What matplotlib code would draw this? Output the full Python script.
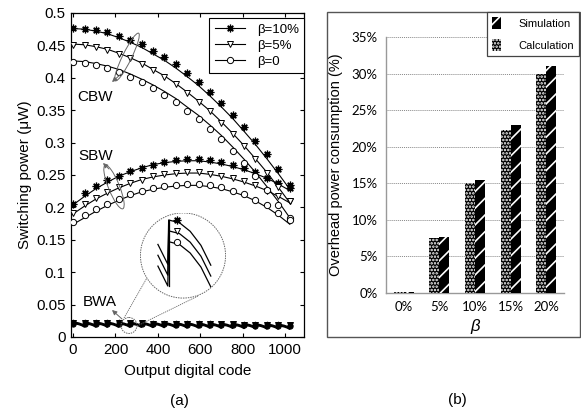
import matplotlib
matplotlib.use('Agg')
import matplotlib.pyplot as plt
from matplotlib.patches import Ellipse, Circle, Rectangle
from matplotlib.lines import Line2D

plt.rcParams['font.family'] = ['Liberation Sans', 'DejaVu Sans']

W, H = 581, 413
fig = plt.figure(figsize=(W / 100, H / 100), dpi=100)


def fx(x):
    return x / W


def fy(y):
    return 1 - y / H


# ---------------- data (a) ----------------
codes = [0, 54, 108, 162, 215, 269, 323, 377, 431, 485, 538, 592, 646, 700, 754, 808, 861, 915, 969, 1023]

cbw_line_10 = [0.476, 0.475, 0.472, 0.468, 0.462, 0.455, 0.447, 0.437, 0.427, 0.415, 0.402, 0.388, 0.372, 0.355, 0.337, 0.317, 0.297, 0.275, 0.252, 0.228]
cbw_mark_10 = [0.477, 0.476, 0.474, 0.470, 0.465, 0.459, 0.452, 0.442, 0.432, 0.421, 0.408, 0.394, 0.378, 0.361, 0.343, 0.324, 0.303, 0.282, 0.259, 0.235]
cbw_line_5 = [0.452, 0.451, 0.448, 0.444, 0.438, 0.431, 0.423, 0.413, 0.403, 0.391, 0.378, 0.364, 0.349, 0.332, 0.314, 0.295, 0.275, 0.254, 0.231, 0.207]
cbw_mark_5 = [0.451, 0.450, 0.447, 0.443, 0.437, 0.430, 0.422, 0.412, 0.401, 0.390, 0.377, 0.363, 0.348, 0.331, 0.313, 0.294, 0.274, 0.253, 0.231, 0.210]
cbw_line_0 = [0.426, 0.425, 0.422, 0.418, 0.413, 0.406, 0.398, 0.389, 0.379, 0.368, 0.355, 0.342, 0.327, 0.311, 0.293, 0.274, 0.254, 0.232, 0.209, 0.184]
cbw_mark_0 = [0.424, 0.423, 0.420, 0.415, 0.409, 0.402, 0.394, 0.384, 0.373, 0.362, 0.349, 0.336, 0.321, 0.305, 0.287, 0.268, 0.248, 0.227, 0.204, 0.183]

sbw_line_10 = [0.204, 0.217, 0.229, 0.239, 0.248, 0.255, 0.261, 0.266, 0.269, 0.271, 0.272, 0.272, 0.270, 0.267, 0.263, 0.258, 0.252, 0.245, 0.236, 0.226]
sbw_mark_10 = [0.206, 0.222, 0.233, 0.242, 0.249, 0.256, 0.261, 0.266, 0.270, 0.273, 0.274, 0.274, 0.273, 0.270, 0.266, 0.261, 0.254, 0.246, 0.238, 0.230]
sbw_line_5 = [0.190, 0.202, 0.213, 0.222, 0.230, 0.237, 0.243, 0.247, 0.250, 0.252, 0.253, 0.253, 0.251, 0.248, 0.244, 0.239, 0.233, 0.226, 0.217, 0.207]
sbw_mark_5 = [0.191, 0.205, 0.215, 0.224, 0.232, 0.238, 0.243, 0.248, 0.251, 0.253, 0.254, 0.254, 0.252, 0.249, 0.245, 0.240, 0.234, 0.226, 0.218, 0.210]
sbw_line_0 = [0.174, 0.184, 0.194, 0.203, 0.211, 0.218, 0.224, 0.228, 0.231, 0.233, 0.234, 0.234, 0.232, 0.229, 0.224, 0.218, 0.210, 0.200, 0.188, 0.174]
sbw_mark_0 = [0.178, 0.188, 0.197, 0.206, 0.213, 0.220, 0.226, 0.230, 0.233, 0.235, 0.236, 0.236, 0.234, 0.231, 0.226, 0.220, 0.212, 0.203, 0.191, 0.180]

# BWA sawtooth: value at each tooth start (peak) and drop profile across a tooth
bwa_peak_10 = [0.0228, 0.0227, 0.0226, 0.0225, 0.0224, 0.0223, 0.0221, 0.0219, 0.0217, 0.0215, 0.0213, 0.0211, 0.0209, 0.0207, 0.0205, 0.0202, 0.0199, 0.0196, 0.0193, 0.0190]
bwa_peak_5 = [0.0216, 0.0215, 0.0214, 0.0213, 0.0212, 0.0211, 0.0209, 0.0207, 0.0205, 0.0203, 0.0201, 0.0199, 0.0197, 0.0195, 0.0193, 0.0190, 0.0187, 0.0184, 0.0181, 0.0178]
bwa_peak_0 = [0.0204, 0.0203, 0.0202, 0.0201, 0.0200, 0.0199, 0.0197, 0.0195, 0.0193, 0.0191, 0.0189, 0.0187, 0.0185, 0.0183, 0.0181, 0.0178, 0.0175, 0.0172, 0.0169, 0.0166]
bwa_drop = 0.0050
tooth_frac = [0.0, 0.25, 0.5, 0.75, 0.98]
tooth_drop = [0.0, 0.06, 0.25, 0.56, 1.0]

legend_labels = ['β=10%', 'β=5%', 'β=0']

# ---------------- data (b) ----------------
beta_labels = ['0%', '5%', '10%', '15%', '20%']
simulation = [0.1, 7.65, 15.5, 22.95, 31.0]
calculation = [0.1, 7.45, 15.0, 22.3, 30.0]


def sawtooth(peaks):
    xs, ys = [], []
    for i, p in enumerate(peaks):
        x0 = codes[i]
        span = (codes[i + 1] - codes[i]) if i + 1 < len(codes) else 0
        if span == 0:
            xs.append(x0)
            ys.append(p)
            continue
        for f, d in zip(tooth_frac, tooth_drop):
            xs.append(x0 + f * span)
            ys.append(p - d * bwa_drop)
    return xs, ys


# ---------------- panel (a) ----------------
ax = fig.add_axes([fx(71), fy(337), (304 - 71) / W, (337 - 13) / H])
series = [
    (cbw_line_10, cbw_mark_10, sbw_line_10, sbw_mark_10, bwa_peak_10,
     dict(marker=(8, 2, 0), ms=5.5, mfc='black', mec='black', mew=0.9)),
    (cbw_line_5, cbw_mark_5, sbw_line_5, sbw_mark_5, bwa_peak_5,
     dict(marker='v', ms=4.5, mfc='white', mec='black', mew=0.7)),
    (cbw_line_0, cbw_mark_0, sbw_line_0, sbw_mark_0, bwa_peak_0,
     dict(marker='o', ms=4.5, mfc='white', mec='black', mew=0.7)),
]
for cl, cm, sl, sm, bp, mk in series:
    ax.plot(codes, cl, color='black', lw=0.8, zorder=2)
    ax.plot(codes, sl, color='black', lw=0.8, zorder=2)
    ax.plot(codes, cm, ls='none', zorder=3, **mk)
    ax.plot(codes, sm, ls='none', zorder=3, **mk)
    bx, by = sawtooth(bp)
    ax.plot(bx, by, color='black', lw=1.0, zorder=2)
    ax.plot(codes, bp, ls='none', zorder=3, **dict(mk, mfc='black', ms=3.8))

ax.set_xlim(-10, 1090)
ax.set_ylim(0, 0.5)
ax.set_xticks([0, 200, 400, 600, 800, 1000])
yt = [0, 0.05, 0.1, 0.15, 0.2, 0.25, 0.3, 0.35, 0.4, 0.45, 0.5]
ax.set_yticks(yt)
ax.set_yticklabels(['0', '0.05', '0.1', '0.15', '0.2', '0.25', '0.3', '0.35', '0.4', '0.45', '0.5'])
ax.tick_params(direction='in', length=3, width=0.8, top=True, right=True, labelsize=10.8, pad=4)
for s in ax.spines.values():
    s.set_linewidth(0.9)
ax.set_xlabel('Output digital code', fontsize=11, labelpad=5)
ax.set_ylabel('Switching power (μW)', fontsize=11, labelpad=3)

handles = [Line2D([], [], color='black', lw=0.8, **series[k][5]) for k in range(3)]
leg = ax.legend(handles, legend_labels, loc='upper right', bbox_to_anchor=(1.0, 1 - 5 / 324),
                borderaxespad=0, fontsize=9.5, frameon=True, fancybox=False, framealpha=1,
                edgecolor='black', handlelength=2.3, handletextpad=0.9, labelspacing=0.3,
                borderpad=0.4)
leg.get_frame().set_linewidth(0.8)

# overlay axes in figure pixel coordinates for annotations
ov = fig.add_axes([0, 0, 1, 1], zorder=5)
ov.set_xlim(0, W)
ov.set_ylim(H, 0)
ov.axis('off')
gray = '#666666'
ov.text(95, 97, 'CBW', fontsize=11, ha='center', va='center')
ov.text(96, 156, 'SBW', fontsize=11, ha='center', va='center')
ov.text(100, 302, 'BWA', fontsize=11, ha='center', va='center')
ov.text(179, 401, '(a)', fontsize=11, ha='center', va='center')
ov.text(457, 400, '(b)', fontsize=11, ha='center', va='center')
ov.add_patch(Ellipse((127, 57), 9, 53, angle=26, fill=False, ec=gray, lw=0.7))
ov.add_patch(Ellipse((114, 187), 11, 47, angle=-22, fill=False, ec=gray, lw=0.7))
arrow = dict(arrowstyle='-|>', color=gray, lw=0.7, mutation_scale=7, shrinkA=0, shrinkB=0)
ov.annotate('', xy=(112, 82), xytext=(121, 74), arrowprops=arrow)
ov.annotate('', xy=(103, 163), xytext=(109, 169), arrowprops=arrow)
ov.annotate('', xy=(112, 310), xytext=(122, 319), arrowprops=arrow)
ov.add_patch(Circle((129, 325.5), 8, fill=False, ec=gray, lw=0.7, ls=(0, (1.5, 1))))
ov.plot([124, 148], [318, 276], color=gray, lw=0.6, ls=(0, (1.5, 1)))
ov.plot([137, 198], [326, 296], color=gray, lw=0.6, ls=(0, (1.5, 1)))

# zoom inset
ins = fig.add_axes([fx(140), fy(298.5), 86 / W, 86 / H], zorder=6)
ins.axis('off')
ins.set_xlim(233, 341)
lo = bwa_peak_0[4] - bwa_drop
hi = bwa_peak_10[5]
a_lo = (298.5 - 286) / 86
a_hi = (298.5 - 220) / 86
scale = (hi - lo) / (a_hi - a_lo)
ins.set_ylim(lo - a_lo * scale, lo - a_lo * scale + scale)
circ = Circle((0.5, 0.5), 0.495, transform=ins.transAxes, facecolor='white',
              edgecolor=gray, lw=0.7, ls=(0, (1.5, 1)))
ins.add_patch(circ)
for cl, cm, sl, sm, bp, mk in series:
    bx, by = sawtooth(bp)
    sel = [(x, y) for x, y in zip(bx, by) if 243 <= x <= 322]
    ln, = ins.plot([s[0] for s in sel], [s[1] for s in sel], color='black', lw=0.9)
    ln.set_clip_path(circ)
    ins.plot([codes[5] + 10], [bp[5]], ls='none', **mk)
ins.plot([codes[5], codes[5]], [lo, hi], color='black', lw=0.9)

# ---------------- panel (b) ----------------
ov.add_patch(Rectangle((327, 12), 253, 325, fill=False, ec='#555555', lw=1.0))
bx_ = fig.add_axes([fx(386), fy(292.7), (564 - 386) / W, (292.7 - 37.2) / H])
plt.rcParams['hatch.linewidth'] = 1.2
xs = list(range(len(beta_labels)))
w = 0.28
bx_.bar([x - w / 2 for x in xs], calculation, width=w, color='black', edgecolor='white',
        hatch='.....', lw=0, zorder=3, label='Calculation')
bx_.bar([x + w / 2 for x in xs], simulation, width=w, color='black', edgecolor='white',
        hatch='//', lw=0, zorder=3, label='Simulation')
bx_.set_xlim(-0.5, 4.5)
bx_.set_ylim(0, 35)
bx_.set_yticks([0, 5, 10, 15, 20, 25, 30, 35])
bx_.set_yticklabels([f'{v}%' for v in [0, 5, 10, 15, 20, 25, 30, 35]], fontfamily='Lato', fontsize=9.5)
bx_.set_xticks(xs)
bx_.set_xticklabels(beta_labels, fontfamily='Lato', fontsize=9.5)
bx_.tick_params(length=0, pad=6)
bx_.grid(axis='y', color='#888888', ls=(0, (1, 1)), lw=0.7, zorder=0)
for k in ['top', 'right']:
    bx_.spines[k].set_visible(False)
for k in ['left', 'bottom']:
    bx_.spines[k].set_color('#999999')
    bx_.spines[k].set_linewidth(1.0)
bx_.set_ylabel('Overhead power consumption (%)', fontsize=10.5, labelpad=6)
bx_.set_xlabel('β', fontsize=12, style='italic', labelpad=4)

hs = [Rectangle((0, 0), 1, 1, facecolor='black', edgecolor='white', hatch='//', lw=0),
      Rectangle((0, 0), 1, 1, facecolor='black', edgecolor='white', hatch='.....', lw=0)]
leg2 = fig.legend(hs, ['Simulation', 'Calculation'], loc='upper left',
                  bbox_to_anchor=(fx(487), fy(12)), borderaxespad=0, fontsize=8,
                  frameon=True, fancybox=False, framealpha=1, edgecolor='#444444',
                  handlelength=0.8, handleheight=1.3, handletextpad=1.6, labelspacing=0.9,
                  borderpad=0.45)
leg2.get_frame().set_linewidth(0.9)

fig.savefig('out.png', dpi=100)
